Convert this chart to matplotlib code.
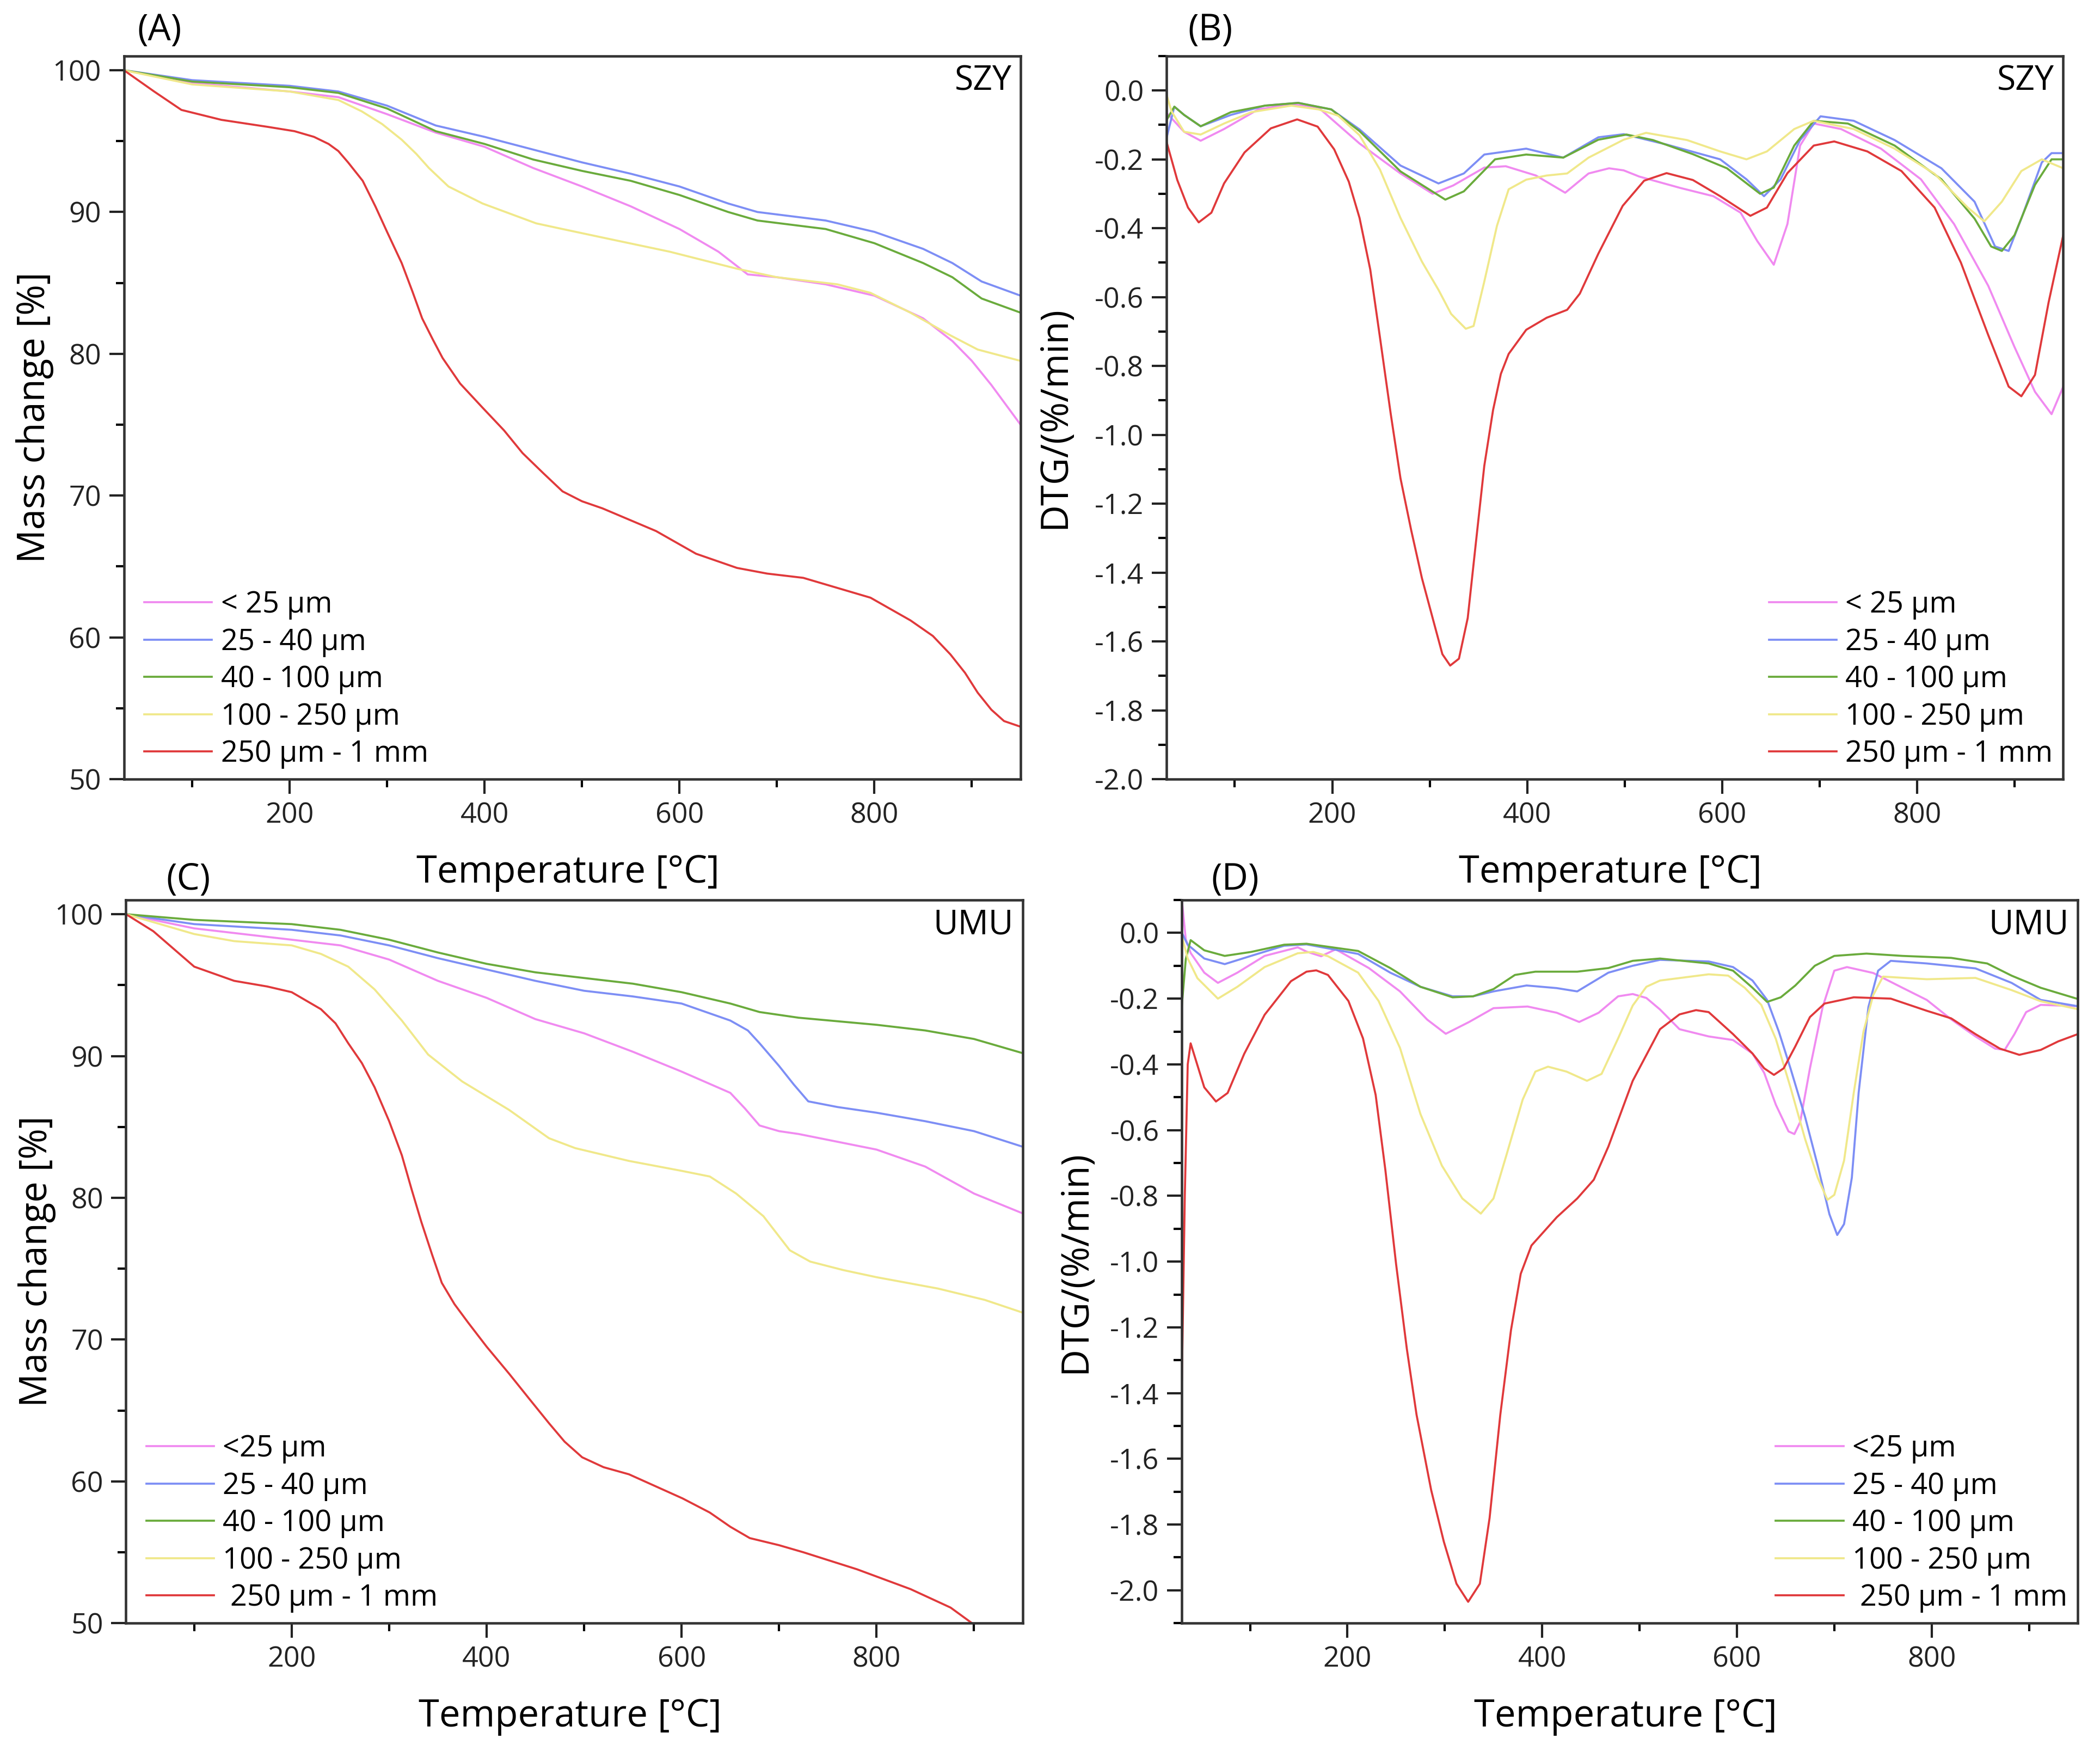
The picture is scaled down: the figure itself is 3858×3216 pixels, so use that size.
import numpy as np
import matplotlib
matplotlib.use("Agg")
import matplotlib.pyplot as plt
from matplotlib.ticker import MultipleLocator, FormatStrFormatter

plt.rcParams['font.family'] = ['Open Sans', 'DejaVu Sans']
plt.rcParams['axes.unicode_minus'] = False

# ---- data (temperature in °C) ----
sizes_szy = ['< 25 µm', '25 - 40 µm', '40 - 100 µm', '100 - 250 µm', '250 µm - 1 mm']
sizes_umu = ['<25 µm', '25 - 40 µm', '40 - 100 µm', '100 - 250 µm', ' 250 µm - 1 mm']
colors = ['#f08af0', '#7d8ef5', '#6aab3c', '#f0e88a', '#e0393b']

# (A) SZY mass change [%]
a_pink_t = [30, 100, 200, 250, 300, 350, 400, 450, 500, 550, 600, 640, 670, 700, 750, 800, 850, 880, 900, 920, 950]
a_pink_m = [100, 99.1, 98.5, 98.1, 96.9, 95.6, 94.6, 93.1, 91.8, 90.4, 88.8, 87.2, 85.6, 85.4, 84.9, 84.1, 82.5, 80.9, 79.5, 77.8, 75.0]
a_blue_t = [30, 100, 200, 250, 300, 350, 400, 450, 500, 550, 600, 650, 680, 750, 800, 850, 880, 910, 950]
a_blue_m = [100, 99.3, 98.9, 98.5, 97.5, 96.1, 95.3, 94.4, 93.5, 92.7, 91.8, 90.6, 90.0, 89.4, 88.6, 87.4, 86.4, 85.1, 84.1]
a_green_t = [30, 100, 200, 250, 300, 350, 400, 450, 500, 550, 600, 650, 680, 750, 800, 850, 880, 910, 950]
a_green_m = [100, 99.2, 98.8, 98.4, 97.3, 95.7, 94.8, 93.7, 92.9, 92.2, 91.2, 90.0, 89.4, 88.8, 87.8, 86.4, 85.4, 83.9, 82.9]
a_yellow_t = [30, 100, 200, 250, 274, 295, 315, 330, 343, 363, 398, 453, 480, 521, 590, 659, 700, 762, 796, 837, 878, 906, 950]
a_yellow_m = [100, 99.0, 98.5, 97.9, 97.1, 96.2, 95.1, 94.1, 93.1, 91.8, 90.6, 89.2, 88.8, 88.2, 87.2, 86.0, 85.4, 84.9, 84.3, 82.9, 81.3, 80.3, 79.5]
a_red_t = [30, 61, 89, 130, 178, 205, 225, 240, 250, 260, 275, 288, 300, 315, 326, 336, 347, 357, 375, 398, 420, 439, 460, 480, 500, 521, 576, 617, 659, 690, 727, 796, 837, 860, 878, 893, 906, 920, 933, 950]
a_red_m = [100, 98.5, 97.2, 96.5, 96.0, 95.7, 95.3, 94.8, 94.3, 93.5, 92.2, 90.4, 88.6, 86.4, 84.4, 82.5, 81.0, 79.7, 77.9, 76.2, 74.6, 73.0, 71.6, 70.3, 69.6, 69.1, 67.5, 65.9, 64.9, 64.5, 64.2, 62.8, 61.2, 60.1, 58.8, 57.5, 56.1, 54.9, 54.1, 53.7]

# (B) SZY DTG [%/min]
b_pink_t = [30, 48, 65, 89, 124, 158, 186, 228, 270, 303, 324, 356, 378, 409, 439, 463, 484, 499, 515, 557, 591, 619, 636, 653, 667, 680, 694, 722, 763, 804, 838, 873, 900, 921, 938, 950]
b_pink_d = [-0.065, -0.12, -0.146, -0.112, -0.055, -0.04, -0.05, -0.154, -0.241, -0.30, -0.276, -0.224, -0.22, -0.247, -0.297, -0.241, -0.226, -0.232, -0.25, -0.283, -0.307, -0.355, -0.437, -0.506, -0.388, -0.16, -0.096, -0.112, -0.169, -0.258, -0.388, -0.567, -0.745, -0.875, -0.94, -0.86]
b_blue_t = [30, 38, 48, 65, 96, 131, 165, 199, 228, 270, 309, 335, 356, 399, 437, 473, 499, 543, 598, 625, 643, 660, 680, 701, 735, 777, 825, 859, 880, 894, 907, 928, 938, 950]
b_blue_d = [-0.138, -0.047, -0.071, -0.104, -0.071, -0.044, -0.036, -0.055, -0.113, -0.218, -0.27, -0.241, -0.186, -0.169, -0.195, -0.136, -0.127, -0.157, -0.20, -0.258, -0.307, -0.258, -0.144, -0.075, -0.088, -0.144, -0.226, -0.323, -0.453, -0.466, -0.372, -0.209, -0.182, -0.182]
b_green_t = [30, 38, 48, 65, 96, 131, 165, 199, 228, 270, 316, 335, 367, 399, 437, 473, 502, 529, 570, 605, 639, 653, 674, 694, 729, 777, 825, 859, 876, 887, 900, 921, 938, 950]
b_green_d = [-0.086, -0.047, -0.071, -0.104, -0.063, -0.044, -0.036, -0.055, -0.118, -0.235, -0.317, -0.293, -0.20, -0.186, -0.195, -0.143, -0.128, -0.144, -0.185, -0.226, -0.30, -0.282, -0.16, -0.088, -0.096, -0.16, -0.258, -0.372, -0.453, -0.466, -0.42, -0.274, -0.20, -0.20]
b_yellow_t = [30, 35, 48, 65, 89, 117, 158, 186, 206, 228, 249, 270, 292, 309, 322, 337, 345, 356, 369, 381, 399, 420, 441, 463, 499, 522, 564, 598, 625, 646, 674, 694, 735, 777, 818, 852, 869, 887, 907, 928, 950]
b_yellow_d = [-0.012, -0.06, -0.12, -0.128, -0.096, -0.063, -0.044, -0.055, -0.073, -0.13, -0.23, -0.37, -0.497, -0.579, -0.649, -0.692, -0.684, -0.555, -0.393, -0.287, -0.259, -0.247, -0.241, -0.195, -0.143, -0.123, -0.144, -0.177, -0.20, -0.177, -0.112, -0.088, -0.112, -0.169, -0.242, -0.34, -0.38, -0.323, -0.234, -0.20, -0.226]
b_red_t = [30, 41, 52, 63, 76, 89, 110, 137, 164, 185, 202, 217, 228, 239, 249, 260, 270, 281, 292, 303, 313, 321, 330, 339, 347, 356, 365, 373, 381, 399, 420, 441, 454, 473, 498, 520, 543, 570, 598, 629, 646, 667, 694, 715, 749, 784, 818, 845, 873, 894, 907, 921, 935, 950]
b_red_d = [-0.149, -0.26, -0.34, -0.383, -0.355, -0.27, -0.18, -0.11, -0.084, -0.105, -0.171, -0.265, -0.37, -0.52, -0.718, -0.939, -1.126, -1.277, -1.416, -1.532, -1.637, -1.67, -1.65, -1.532, -1.323, -1.09, -0.928, -0.823, -0.765, -0.695, -0.66, -0.637, -0.59, -0.474, -0.335, -0.262, -0.24, -0.26, -0.307, -0.364, -0.34, -0.24, -0.16, -0.148, -0.177, -0.234, -0.34, -0.50, -0.71, -0.86, -0.888, -0.826, -0.615, -0.42]

# (C) UMU mass change [%]
c_pink_t = [30, 100, 200, 250, 300, 350, 400, 450, 500, 550, 600, 650, 665, 680, 700, 720, 800, 850, 900, 950]
c_pink_m = [100, 99.0, 98.2, 97.8, 96.8, 95.3, 94.1, 92.6, 91.6, 90.3, 88.9, 87.4, 86.3, 85.1, 84.7, 84.5, 83.4, 82.2, 80.3, 78.9]
c_blue_t = [30, 100, 200, 250, 300, 350, 400, 450, 500, 550, 600, 650, 668, 680, 690, 700, 715, 730, 760, 800, 850, 900, 950]
c_blue_m = [100, 99.3, 98.9, 98.5, 97.8, 96.9, 96.1, 95.3, 94.6, 94.2, 93.7, 92.5, 91.8, 90.9, 90.1, 89.3, 88.0, 86.8, 86.4, 86.0, 85.4, 84.7, 83.6]
c_green_t = [30, 100, 200, 250, 300, 350, 400, 450, 500, 550, 600, 650, 680, 720, 800, 850, 900, 950]
c_green_m = [100, 99.6, 99.3, 98.9, 98.2, 97.3, 96.5, 95.9, 95.5, 95.1, 94.5, 93.7, 93.1, 92.7, 92.2, 91.8, 91.2, 90.2]
c_yellow_t = [30, 100, 141, 200, 230, 258, 285, 313, 340, 375, 423, 464, 491, 546, 600, 629, 656, 684, 711, 732, 766, 800, 863, 911, 950]
c_yellow_m = [100, 98.6, 98.1, 97.8, 97.2, 96.3, 94.7, 92.5, 90.1, 88.2, 86.2, 84.2, 83.5, 82.6, 81.9, 81.5, 80.3, 78.7, 76.3, 75.5, 74.9, 74.4, 73.6, 72.8, 71.9]
c_red_t = [30, 58, 100, 141, 175, 200, 230, 245, 258, 272, 285, 300, 313, 323, 333, 344, 354, 367, 381, 400, 423, 444, 464, 480, 498, 520, 546, 601, 629, 650, 670, 700, 725, 780, 835, 876, 898, 950]
c_red_m = [100, 98.8, 96.3, 95.3, 94.9, 94.5, 93.3, 92.3, 90.9, 89.5, 87.8, 85.4, 83.0, 80.6, 78.3, 76.0, 74.0, 72.5, 71.2, 69.5, 67.6, 65.8, 64.1, 62.8, 61.7, 61.0, 60.5, 58.8, 57.8, 56.8, 56.0, 55.5, 55.0, 53.8, 52.4, 51.1, 50.0, 48.2]

# (D) UMU DTG [%/min]
d_pink_t = [30, 34, 39, 53, 67, 87, 115, 149, 158, 173, 188, 222, 254, 282, 301, 325, 350, 385, 415, 438, 458, 478, 493, 507, 521, 541, 571, 596, 616, 628, 640, 653, 659, 665, 675, 688, 700, 713, 740, 770, 795, 820, 845, 865, 875, 885, 897, 912, 950]
d_pink_d = [0.10, -0.02, -0.061, -0.121, -0.152, -0.121, -0.07, -0.044, -0.057, -0.071, -0.05, -0.107, -0.178, -0.264, -0.307, -0.271, -0.229, -0.224, -0.243, -0.271, -0.243, -0.193, -0.186, -0.198, -0.233, -0.293, -0.315, -0.326, -0.367, -0.426, -0.523, -0.604, -0.612, -0.575, -0.412, -0.226, -0.115, -0.104, -0.122, -0.167, -0.204, -0.263, -0.315, -0.352, -0.356, -0.308, -0.241, -0.219, -0.223]
d_blue_t = [30, 36, 53, 74, 101, 135, 158, 211, 244, 275, 308, 329, 350, 384, 415, 436, 468, 493, 521, 571, 596, 616, 631, 643, 655, 670, 683, 695, 703, 710, 718, 725, 735, 745, 758, 795, 845, 882, 912, 950]
d_blue_d = [0.0, -0.036, -0.078, -0.095, -0.07, -0.039, -0.035, -0.064, -0.121, -0.164, -0.193, -0.193, -0.178, -0.16, -0.168, -0.178, -0.121, -0.10, -0.082, -0.087, -0.104, -0.145, -0.204, -0.30, -0.412, -0.56, -0.708, -0.856, -0.919, -0.886, -0.745, -0.486, -0.226, -0.115, -0.085, -0.093, -0.108, -0.152, -0.204, -0.223]
d_green_t = [30, 34, 39, 53, 74, 101, 135, 158, 211, 244, 275, 308, 329, 350, 372, 393, 436, 468, 493, 521, 571, 596, 616, 631, 645, 660, 680, 700, 733, 770, 820, 857, 882, 912, 950]
d_green_d = [-0.22, -0.08, -0.022, -0.053, -0.07, -0.058, -0.036, -0.033, -0.055, -0.107, -0.164, -0.196, -0.193, -0.171, -0.128, -0.118, -0.118, -0.107, -0.085, -0.078, -0.093, -0.115, -0.167, -0.21, -0.196, -0.16, -0.10, -0.07, -0.063, -0.07, -0.076, -0.093, -0.13, -0.167, -0.201]
d_yellow_t = [30, 36, 46, 67, 87, 115, 149, 165, 180, 211, 232, 254, 275, 297, 318, 337, 350, 363, 380, 393, 406, 425, 446, 461, 478, 493, 507, 521, 571, 591, 608, 625, 640, 655, 670, 683, 693, 700, 710, 720, 730, 740, 750, 795, 845, 882, 912, 950]
d_yellow_d = [-0.01, -0.078, -0.138, -0.20, -0.164, -0.104, -0.062, -0.058, -0.071, -0.121, -0.207, -0.35, -0.551, -0.708, -0.808, -0.854, -0.808, -0.679, -0.507, -0.422, -0.407, -0.422, -0.45, -0.429, -0.321, -0.221, -0.164, -0.145, -0.126, -0.13, -0.167, -0.219, -0.323, -0.47, -0.627, -0.745, -0.812, -0.797, -0.693, -0.486, -0.30, -0.189, -0.133, -0.141, -0.137, -0.174, -0.208, -0.232]
d_red_t = [30, 33, 36, 39, 53, 65, 77, 94, 115, 142, 158, 168, 180, 201, 216, 229, 239, 250, 261, 271, 286, 299, 312, 324, 336, 346, 357, 368, 378, 389, 415, 436, 453, 468, 493, 521, 541, 558, 571, 596, 616, 628, 638, 648, 660, 675, 690, 720, 758, 795, 820, 845, 870, 890, 912, 930, 950]
d_red_d = [-1.36, -0.80, -0.40, -0.336, -0.47, -0.513, -0.487, -0.368, -0.249, -0.147, -0.118, -0.114, -0.128, -0.207, -0.321, -0.493, -0.722, -1.008, -1.265, -1.466, -1.695, -1.852, -1.98, -2.035, -1.98, -1.78, -1.466, -1.208, -1.037, -0.951, -0.865, -0.808, -0.751, -0.65, -0.45, -0.293, -0.248, -0.235, -0.241, -0.308, -0.367, -0.412, -0.432, -0.412, -0.345, -0.256, -0.215, -0.196, -0.20, -0.237, -0.26, -0.308, -0.352, -0.371, -0.356, -0.33, -0.308]

panels = [
    dict(pos=[0.059, 0.555, 0.427, 0.413], tag='(A)', tag_xy=(0.015, 1.035), site='SZY', labels=sizes_szy,
         series=[(a_pink_t, a_pink_m), (a_blue_t, a_blue_m), (a_green_t, a_green_m),
                 (a_yellow_t, a_yellow_m), (a_red_t, a_red_m)],
         ylim=(50, 101), ymaj=10, ymin=5, fmt='%d', ylabel='Mass change [%]',
         ylab_x=-0.078, leg='lower left', anchor=(0.011, 0.0)),
    dict(pos=[0.5555, 0.555, 0.427, 0.413], tag='(B)', tag_xy=(0.024, 1.035), site='SZY', labels=sizes_szy,
         series=[(b_pink_t, b_pink_d), (b_blue_t, b_blue_d), (b_green_t, b_green_d),
                 (b_yellow_t, b_yellow_d), (b_red_t, b_red_d)],
         ylim=(-2.0, 0.1), ymaj=0.2, ymin=0.1, fmt='%.1f', ylabel='DTG/(%/min)',
         ylab_x=-0.103, leg='lower right', anchor=(1.0, 0.0)),
    dict(pos=[0.060, 0.073, 0.427, 0.413], tag='(C)', tag_xy=(0.045, 1.028), site='UMU', labels=sizes_umu,
         series=[(c_pink_t, c_pink_m), (c_blue_t, c_blue_m), (c_green_t, c_green_m),
                 (c_yellow_t, c_yellow_m), (c_red_t, c_red_m)],
         ylim=(50, 101), ymaj=10, ymin=5, fmt='%d', ylabel='Mass change [%]',
         ylab_x=-0.078, leg='lower left', anchor=(0.011, 0.0)),
    dict(pos=[0.5628, 0.073, 0.4266, 0.413], tag='(D)', tag_xy=(0.033, 1.028), site='UMU', labels=sizes_umu,
         series=[(d_pink_t, d_pink_d), (d_blue_t, d_blue_d), (d_green_t, d_green_d),
                 (d_yellow_t, d_yellow_d), (d_red_t, d_red_d)],
         ylim=(-2.1, 0.1), ymaj=0.2, ymin=0.1, fmt='%.1f', ylabel='DTG/(%/min)',
         ylab_x=-0.097, leg='lower right', anchor=(1.0, 0.0)),
]

fig = plt.figure(figsize=(12.86, 10.72), dpi=300)

for p in panels:
    ax = fig.add_axes(p['pos'])
    for (t, v), c, lab in zip(p['series'], colors, p['labels']):
        ax.plot(t, v, color=c, lw=0.9, label=lab)
    ax.set_xlim(30, 950)
    ax.set_ylim(*p['ylim'])
    ax.xaxis.set_major_locator(MultipleLocator(200))
    ax.xaxis.set_minor_locator(MultipleLocator(100))
    ax.yaxis.set_major_locator(MultipleLocator(p['ymaj']))
    ax.yaxis.set_minor_locator(MultipleLocator(p['ymin']))
    ax.yaxis.set_major_formatter(FormatStrFormatter(p['fmt']))
    ax.tick_params(which='major', direction='out', length=6.5, width=1.0, labelsize=12.5, colors='#222222')
    ax.tick_params(which='minor', direction='out', length=3.5, width=1.0)
    for s in ax.spines.values():
        s.set_linewidth(1.1)
        s.set_color('#333333')
    ax.set_xlabel('Temperature [°C]', fontsize=16.5)
    ax.xaxis.set_label_coords(0.495, -0.103)
    ax.set_ylabel(p['ylabel'], fontsize=16.5)
    ax.yaxis.set_label_coords(p['ylab_x'], 0.5)
    ax.text(0.99, 0.965, p['site'], transform=ax.transAxes, ha='right', va='center', fontsize=15)
    ax.text(p['tag_xy'][0], p['tag_xy'][1], p['tag'], transform=ax.transAxes,
            ha='left', va='center', fontsize=16)
    ax.legend(loc=p['leg'], bbox_to_anchor=p['anchor'], frameon=False, fontsize=13,
              handlelength=2.3, handletextpad=0.3, labelspacing=0.25,
              borderaxespad=0.15, borderpad=0.2)

fig.savefig('out.png', dpi=300)
